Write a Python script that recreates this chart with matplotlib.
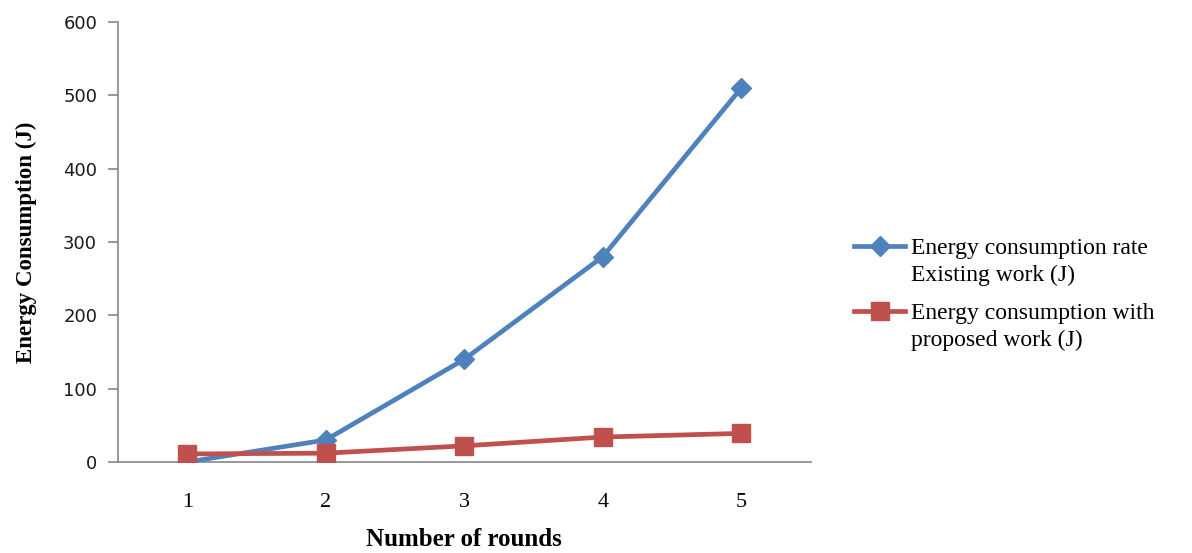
import matplotlib
matplotlib.use("Agg")
import matplotlib.pyplot as plt
from matplotlib.lines import Line2D
from matplotlib.legend_handler import HandlerLine2D

rounds = [1, 2, 3, 4, 5]
existing_energy = [0, 30, 140, 280, 510]
proposed_energy = [11, 12, 22, 34, 39]
y_ticks = [0, 100, 200, 300, 400, 500, 600]

label_existing = "Energy consumption rate\nExisting work (J)"
label_proposed = "Energy consumption with\nproposed work (J)"

blue = "#4F81BD"
red = "#C0504D"
axis_gray = "#868686"


class FirstLineHandler(HandlerLine2D):
    """Place the legend key level with the first line of a two-line label."""

    def create_artists(self, legend, orig_handle, xdescent, ydescent,
                       width, height, fontsize, trans):
        shift = 0.68 * fontsize
        return super().create_artists(legend, orig_handle, xdescent,
                                      ydescent - 2 * shift, width, height,
                                      fontsize, trans)


fig = plt.figure(figsize=(11.92, 5.53), dpi=100)
ax = fig.add_axes([0.099, 0.1646, 0.581, 0.7956])

line_a, = ax.plot(rounds, existing_energy, color=blue, lw=3.4, marker="D", ms=10,
                  label=label_existing, zorder=3)
line_b, = ax.plot(rounds, proposed_energy, color=red, lw=3.4, marker="s", ms=13.5,
                  label=label_proposed, zorder=4)

ax.set_xlim(0.5, 5.5)
ax.set_ylim(0, 600)
ax.set_yticks(y_ticks)
ax.set_xticks(rounds)

for s in ("top", "right"):
    ax.spines[s].set_visible(False)
for s in ("left", "bottom"):
    ax.spines[s].set_color(axis_gray)
    ax.spines[s].set_linewidth(1.2)
ax.spines["bottom"].set_zorder(2)

ax.tick_params(axis="y", direction="out", length=7, width=1.2, color=axis_gray,
               pad=8, labelsize=13, labelcolor="#1a1a1a")
ax.tick_params(axis="x", length=0, pad=22, labelsize=16)
for lbl in ax.get_yticklabels():
    lbl.set_fontfamily("DejaVu Sans")
for lbl in ax.get_xticklabels():
    lbl.set_fontfamily("Liberation Serif")

ax.set_xlabel("Number of rounds", fontfamily="Liberation Serif", fontweight="bold",
              fontsize=18, labelpad=12)
ax.set_ylabel("Energy Consumption (J)", fontfamily="Liberation Serif", fontweight="bold",
              fontsize=16.5, labelpad=19)

leg = fig.legend(handles=[line_a, line_b], loc="upper left",
                 bbox_to_anchor=(0.699, 0.608), frameon=False,
                 prop={"family": "Liberation Serif", "size": 17},
                 handlelength=2.15, handletextpad=0.25, labelspacing=0.7,
                 handler_map={Line2D: FirstLineHandler()})
for t in leg.get_texts():
    t.set_linespacing(1.38)

fig.savefig("out.png", dpi=100)
